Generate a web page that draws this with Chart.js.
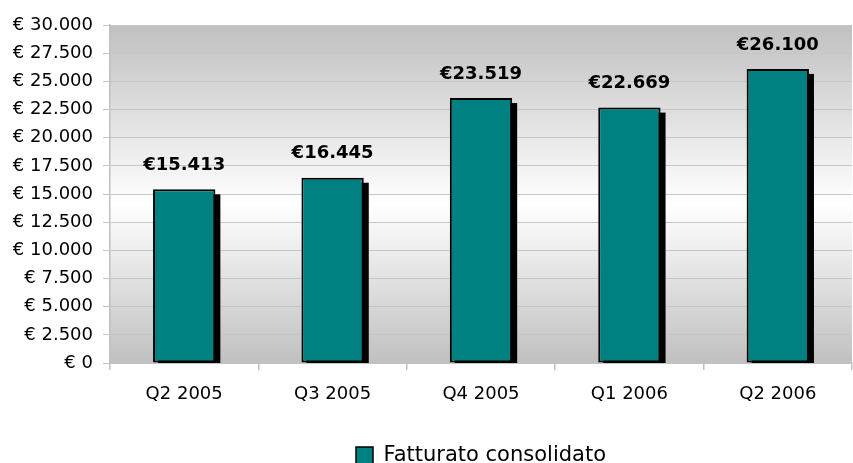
<!DOCTYPE html>
<html>
<head>
<meta charset="utf-8">
<script src="https://cdn.jsdelivr.net/npm/chart.js@4.4.1/dist/chart.umd.min.js"></script>
<style>
html,body{margin:0;padding:0;background:#fff;overflow:hidden;}
#wrap{width:853px;height:476px;position:relative;}
</style>
</head>
<body>
<div id="wrap"><canvas id="c"></canvas></div>
<script>
const categories = ["Q2 2005", "Q3 2005", "Q4 2005", "Q1 2006", "Q2 2006"];
const fatturato = [15413, 16445, 23519, 22669, 26100];
const seriesName = "Fatturato consolidato";
const yTicks = [0, 2500, 5000, 7500, 10000, 12500, 15000, 17500, 20000, 22500, 25000, 27500, 30000];

const FONT = "'DejaVu Sans', sans-serif";
function fmt(v){ return String(v).replace(/\B(?=(\d{3})+(?!\d))/g, "."); }

const bgPlugin = {
  id: 'bg',
  beforeDraw(chart){
    const {ctx, chartArea:a} = chart;
    const g = ctx.createLinearGradient(0, a.top, 0, a.bottom);
    g.addColorStop(0, '#c0c0c0');
    g.addColorStop(0.53, '#ffffff');
    g.addColorStop(1, '#c0c0c0');
    ctx.save();
    ctx.fillStyle = g;
    ctx.fillRect(a.left, a.top, a.right - a.left, a.bottom - a.top);
    ctx.restore();
    // center legend under the plot area
    if (chart.legend) {
      chart.legend.left = a.left;
      chart.legend.right = a.right;
    }
  }
};

const shadowPlugin = {
  id: 'shadow',
  beforeDatasetsDraw(chart){
    const {ctx, chartArea:a} = chart;
    const meta = chart.getDatasetMeta(0);
    ctx.save();
    ctx.beginPath();
    ctx.rect(a.left, a.top, a.right - a.left, a.bottom - a.top);
    ctx.clip();
    ctx.fillStyle = '#000';
    meta.data.forEach(bar => {
      const p = bar.getProps(['x','y','base','width'], true);
      const l = p.x - p.width/2 + 5;
      ctx.fillRect(l, p.y + 5, p.width, p.base - p.y);
    });
    ctx.restore();
  },
  afterDatasetsDraw(chart){
    const {ctx} = chart;
    const meta = chart.getDatasetMeta(0);
    ctx.save();
    ctx.font = "bold 18px " + FONT;
    ctx.fillStyle = '#000';
    ctx.textAlign = 'center';
    ctx.textBaseline = 'middle';
    meta.data.forEach((bar, i) => {
      const p = bar.getProps(['x','y'], true);
      ctx.fillText('€' + fmt(chart.data.datasets[0].data[i]), p.x, p.y - 24);
    });
    ctx.restore();
  }
};

new Chart(document.getElementById('c'), {
  type: 'bar',
  data: {
    labels: categories,
    datasets: [{
      label: seriesName,
      data: fatturato,
      backgroundColor: '#008080',
      borderColor: '#000000',
      borderWidth: 2,
      borderSkipped: false,
      categoryPercentage: 1,
      barPercentage: 0.42
    }]
  },
  options: {
    responsive: true,
    maintainAspectRatio: false,
    animation: false,
    layout: { padding: { top: 25, right: 1, left: 0, bottom: 0 } },
    plugins: {
      legend: {
        position: 'bottom',
        labels: {
          font: { family: FONT, size: 21 },
          color: '#000',
          boxWidth: 17,
          boxHeight: 17,
          padding: 0,
          generateLabels(chart){
            return [{
              text: seriesName,
              fillStyle: '#008080',
              strokeStyle: '#000',
              lineWidth: 1.5,
              datasetIndex: 0
            }];
          }
        }
      },
      tooltip: { enabled: false }
    },
    scales: {
      x: {
        grid: { offset: true, drawOnChartArea: false, color: '#c0c0c0', tickLength: 7, lineWidth: 1.5 },
        border: { color: '#c0c0c0', width: 1.5 },
        ticks: { font: { family: FONT, size: 18 }, color: '#000', padding: 14, maxRotation: 0 },
        afterFit(scale){ scale.height = 82; }
      },
      y: {
        min: 0, max: 30000,
        afterBuildTicks(scale){ scale.ticks = yTicks.map(v => ({value: v})); },
        grid: { color: '#c6c6c6', tickLength: 7, lineWidth: 1 },
        border: { color: '#c0c0c0', width: 1.5 },
        ticks: {
          font: { family: FONT, size: 18 }, color: '#000', padding: 10,
          callback: v => '€ ' + fmt(v)
        },
        afterFit(scale){ scale.width = 110; }
      }
    }
  },
  plugins: [bgPlugin, shadowPlugin]
});
</script>
</body>
</html>
